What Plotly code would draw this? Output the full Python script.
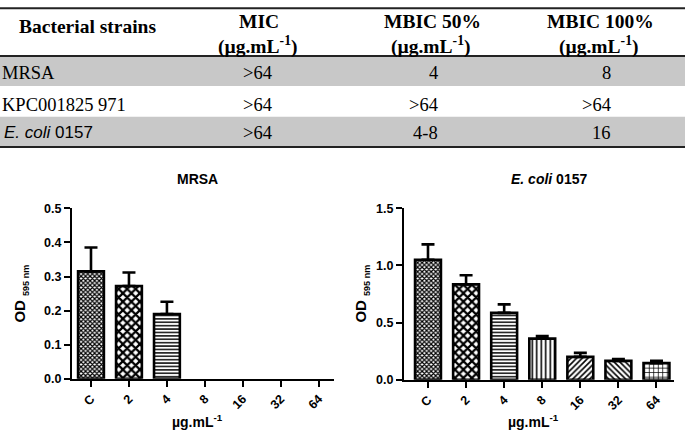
import plotly.graph_objects as go

W, H = 685, 439

# ---------------- data ----------------
categories = ["C", "2", "4", "8", "16", "32", "64"]
mrsa_od = [0.315, 0.272, 0.19, 0, 0, 0, 0]
mrsa_err = [0.07, 0.04, 0.036, 0, 0, 0, 0]
ecoli_od = [1.05, 0.835, 0.585, 0.36, 0.2, 0.165, 0.145]
ecoli_err = [0.135, 0.08, 0.075, 0.022, 0.035, 0.015, 0.02]

strains = ["MRSA", "KPC001825 971", "<i>E. coli</i> 0157"]
mic = [">64", ">64", ">64"]
mbic50 = ["4", ">64", "4-8"]
mbic100 = ["8", ">64", "16"]
col_headers = ["MIC", "MBIC 50%", "MBIC 100%"]
unit_label = "(µg.mL<sup>-1</sup>)"

# ---------------- styling ----------------
pat_shapes = ["x", "x", "-", "|", "/", "\\", "+"]
pat_sizes = [3.2, 6, 3.4, 4.5, 4, 4, 4.5]
pat_solid = [0.62, 0.6, 0.42, 0.35, 0.4, 0.4, 0.3]

def px(x):
    return x / W

def py(y):
    return 1 - y / H

fig = go.Figure()

def add_bars(xa, ya, vals, errs):
    shown = [v if v != 0 else None for v in vals]
    fig.add_trace(go.Bar(
        x=categories, y=shown, xaxis=xa, yaxis=ya, width=0.68,
        marker=dict(color="white", line=dict(color="black", width=2.6),
                    pattern=dict(shape=pat_shapes, size=pat_sizes, solidity=pat_solid,
                                 fgcolor="black", bgcolor="white", fillmode="replace")),
        error_y=dict(type="data", array=errs, arrayminus=[0] * len(errs), symmetric=False,
                     thickness=2.6, width=6.5, color="black"),
        showlegend=False, hoverinfo="skip"))

add_bars("x", "y", mrsa_od, mrsa_err)
add_bars("x2", "y2", ecoli_od, ecoli_err)

axis_font = dict(family="Liberation Sans", size=12.5, color="black", weight="bold")
common_x = dict(type="category", showline=True, linecolor="black", linewidth=2,
                ticks="outside", ticklen=6, tickwidth=2, tickcolor="black",
                tickangle=-45, showgrid=False, zeroline=False,
                tickfont=axis_font)
common_y = dict(showline=True, linecolor="black", linewidth=2, ticks="outside",
                ticklen=6, tickwidth=2, tickcolor="black", showgrid=False,
                zeroline=False, tickformat=".1f", tickfont=axis_font)

fig.update_layout(
    width=W, height=H, margin=dict(l=0, r=0, t=0, b=0),
    paper_bgcolor="white", plot_bgcolor="white",
    bargap=0.3,
    xaxis=dict(common_x, domain=[px(72), px(334)], range=[-0.5, 6.4], anchor="y"),
    yaxis=dict(common_y, domain=[py(384), py(208)], range=[0, 0.5], dtick=0.1, anchor="x"),
    xaxis2=dict(common_x, domain=[px(404), px(674)], range=[-0.63, 6.46], anchor="y2"),
    yaxis2=dict(common_y, domain=[py(385), py(208)], range=[0, 1.5], dtick=0.5, anchor="x2"),
)

shapes = []
# table row shading
for (y0, y1) in [(50.5, 81.7), (113.3, 144)]:
    shapes.append(dict(type="rect", xref="paper", yref="paper", x0=0, x1=1,
                       y0=py(y1), y1=py(y0), fillcolor="#c8c8c8", line=dict(width=0), layer="below"))
for yl in [1.2, 50.5, 144.5]:
    shapes.append(dict(type="line", xref="paper", yref="paper", x0=0, x1=1,
                       y0=py(yl), y1=py(yl), line=dict(color="#222", width=2)))
fig.update_layout(shapes=shapes)

ann = []
serif_b = dict(family="Liberation Serif", size=19.5, color="black")
serif = dict(family="Liberation Serif", size=18.5, color="black")
sans = dict(family="Liberation Sans", size=17, color="black")

ann.append(dict(text="<b>Bacterial strains</b>", x=px(17), y=py(20), xanchor="left", yanchor="middle", font=serif_b))
hdr_x = [259, 432, 600]
for hx, h in zip(hdr_x, col_headers):
    ann.append(dict(text="<b>" + h + "</b>", x=px(hx), y=py(15), xanchor="center", yanchor="middle", font=serif_b))
    ann.append(dict(text="<b>" + unit_label + "</b>", x=px(hx - 2), y=py(40), xanchor="center", yanchor="middle", font=serif_b))

row_y = [68, 101, 130]
for i, s in enumerate(strains):
    f = sans if "coli" in s else serif
    ann.append(dict(text=s, x=px(0 if f is serif else 2), y=py(row_y[i]), xanchor="left", yanchor="middle", font=f))
    ann.append(dict(text=mic[i], x=px(274), y=py(row_y[i]), xanchor="right", yanchor="middle", font=serif))
    ann.append(dict(text=mbic50[i], x=px(440), y=py(row_y[i]), xanchor="right", yanchor="middle", font=serif))
    ann.append(dict(text=mbic100[i], x=px(613), y=py(row_y[i]), xanchor="right", yanchor="middle", font=serif))

# chart titles and axis titles
tfont = dict(family="Liberation Sans", size=14, color="black")
ann.append(dict(text="<b>MRSA</b>", x=px(197), y=py(178), xanchor="center", yanchor="middle", font=tfont))
ann.append(dict(text="<b><i>E. coli</i> 0157</b>", x=px(549), y=py(178), xanchor="center", yanchor="middle", font=tfont))
yfont = dict(family="Liberation Sans", size=15, color="black")
for xx in [21, 362]:
    ann.append(dict(text="<b>OD <sub><span style='font-size:9px'>595 nm</span></sub></b>", x=px(xx), y=py(296),
                    xanchor="center", yanchor="middle", textangle=-90, font=yfont))
xfont = dict(family="Liberation Sans", size=14, color="black")
for xx in [197, 533]:
    ann.append(dict(text="<b>µg.mL<sup>-1</sup></b>", x=px(xx), y=py(428), xanchor="center", yanchor="middle", font=xfont))

for a in ann:
    a.update(xref="paper", yref="paper", showarrow=False)
fig.update_layout(annotations=ann)

fig.write_html("out.html", config={"displayModeBar": False},
               post_script="document.body.style.margin='0';document.body.style.overflow='hidden';")
